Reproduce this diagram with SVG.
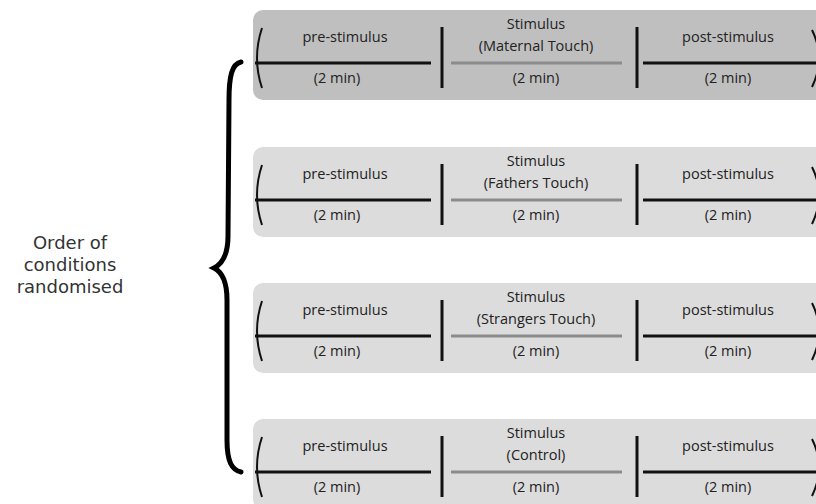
<svg xmlns="http://www.w3.org/2000/svg" width="816" height="504" viewBox="0 0 816 504">
<style>
.box1{fill:#bfbfbf}
.box{fill:#dcdcdc}
.blk{stroke:#111;stroke-width:3;fill:none}
.gry{stroke:#8c8c8c;stroke-width:3;fill:none}
.par{stroke:#111;stroke-width:2;fill:none}
text{font-family:"Open Sans","Liberation Sans",sans-serif;font-size:14.5px;fill:#222;text-anchor:middle}
.side{font-family:"DejaVu Sans","Liberation Sans",sans-serif;font-size:18px;fill:#333}
</style>
<rect width="816" height="504" fill="#ffffff"/>
<g id="label">
<text class="side" x="70" y="249">Order of</text>
<text class="side" x="70" y="271">conditions</text>
<text class="side" x="70" y="293">randomised</text>
</g>
<g id="brace">
<path d="M241,62 C232,64 229,76 229,100 L228,236 C228,255 222,264 214,268 C222,272 227,282 227,300 L227,440 C227,462 232,470 241,472" stroke="#000" stroke-width="5" fill="none" stroke-linecap="round"/>
</g>
<g id="cond1">
<rect class="box1" x="253" y="10" width="600" height="90" rx="10"/>
<path class="par" d="M262,28 Q252,58 262,88"/>
<path class="par" d="M812,30 Q826,58 812,87"/>
<line class="blk" x1="255" y1="63" x2="431" y2="63"/>
<line class="blk" x1="442" y1="27" x2="442" y2="88"/>
<line class="gry" x1="451" y1="63" x2="622" y2="63"/>
<line class="blk" x1="637" y1="27" x2="637" y2="88"/>
<line class="blk" x1="643" y1="63" x2="816" y2="63"/>
<text x="345" y="42">pre-stimulus</text>
<text x="337" y="83">(2 min)</text>
<text x="536" y="29">Stimulus</text>
<text x="536" y="51">(Maternal Touch)</text>
<text x="536" y="83">(2 min)</text>
<text x="728" y="42">post-stimulus</text>
<text x="728" y="83">(2 min)</text>
</g>
<g id="cond2">
<rect class="box" x="253" y="147" width="600" height="90" rx="10"/>
<path class="par" d="M262,165 Q252,195 262,225"/>
<path class="par" d="M812,167 Q826,195 812,224"/>
<line class="blk" x1="255" y1="200" x2="431" y2="200"/>
<line class="blk" x1="442" y1="164" x2="442" y2="225"/>
<line class="gry" x1="451" y1="200" x2="622" y2="200"/>
<line class="blk" x1="637" y1="164" x2="637" y2="225"/>
<line class="blk" x1="643" y1="200" x2="816" y2="200"/>
<text x="345" y="179">pre-stimulus</text>
<text x="337" y="220">(2 min)</text>
<text x="536" y="166">Stimulus</text>
<text x="536" y="188">(Fathers Touch)</text>
<text x="536" y="220">(2 min)</text>
<text x="728" y="179">post-stimulus</text>
<text x="728" y="220">(2 min)</text>
</g>
<g id="cond3">
<rect class="box" x="253" y="283" width="600" height="90" rx="10"/>
<path class="par" d="M262,301 Q252,331 262,361"/>
<path class="par" d="M812,303 Q826,331 812,360"/>
<line class="blk" x1="255" y1="336" x2="431" y2="336"/>
<line class="blk" x1="442" y1="300" x2="442" y2="361"/>
<line class="gry" x1="451" y1="336" x2="622" y2="336"/>
<line class="blk" x1="637" y1="300" x2="637" y2="361"/>
<line class="blk" x1="643" y1="336" x2="816" y2="336"/>
<text x="345" y="315">pre-stimulus</text>
<text x="337" y="356">(2 min)</text>
<text x="536" y="302">Stimulus</text>
<text x="536" y="324">(Strangers Touch)</text>
<text x="536" y="356">(2 min)</text>
<text x="728" y="315">post-stimulus</text>
<text x="728" y="356">(2 min)</text>
</g>
<g id="cond4">
<rect class="box" x="253" y="419" width="600" height="90" rx="10"/>
<path class="par" d="M262,437 Q252,467 262,497"/>
<path class="par" d="M812,439 Q826,467 812,496"/>
<line class="blk" x1="255" y1="472" x2="431" y2="472"/>
<line class="blk" x1="442" y1="436" x2="442" y2="497"/>
<line class="gry" x1="451" y1="472" x2="622" y2="472"/>
<line class="blk" x1="637" y1="436" x2="637" y2="497"/>
<line class="blk" x1="643" y1="472" x2="816" y2="472"/>
<text x="345" y="451">pre-stimulus</text>
<text x="337" y="492">(2 min)</text>
<text x="536" y="438">Stimulus</text>
<text x="536" y="460">(Control)</text>
<text x="536" y="492">(2 min)</text>
<text x="728" y="451">post-stimulus</text>
<text x="728" y="492">(2 min)</text>
</g>
</svg>
